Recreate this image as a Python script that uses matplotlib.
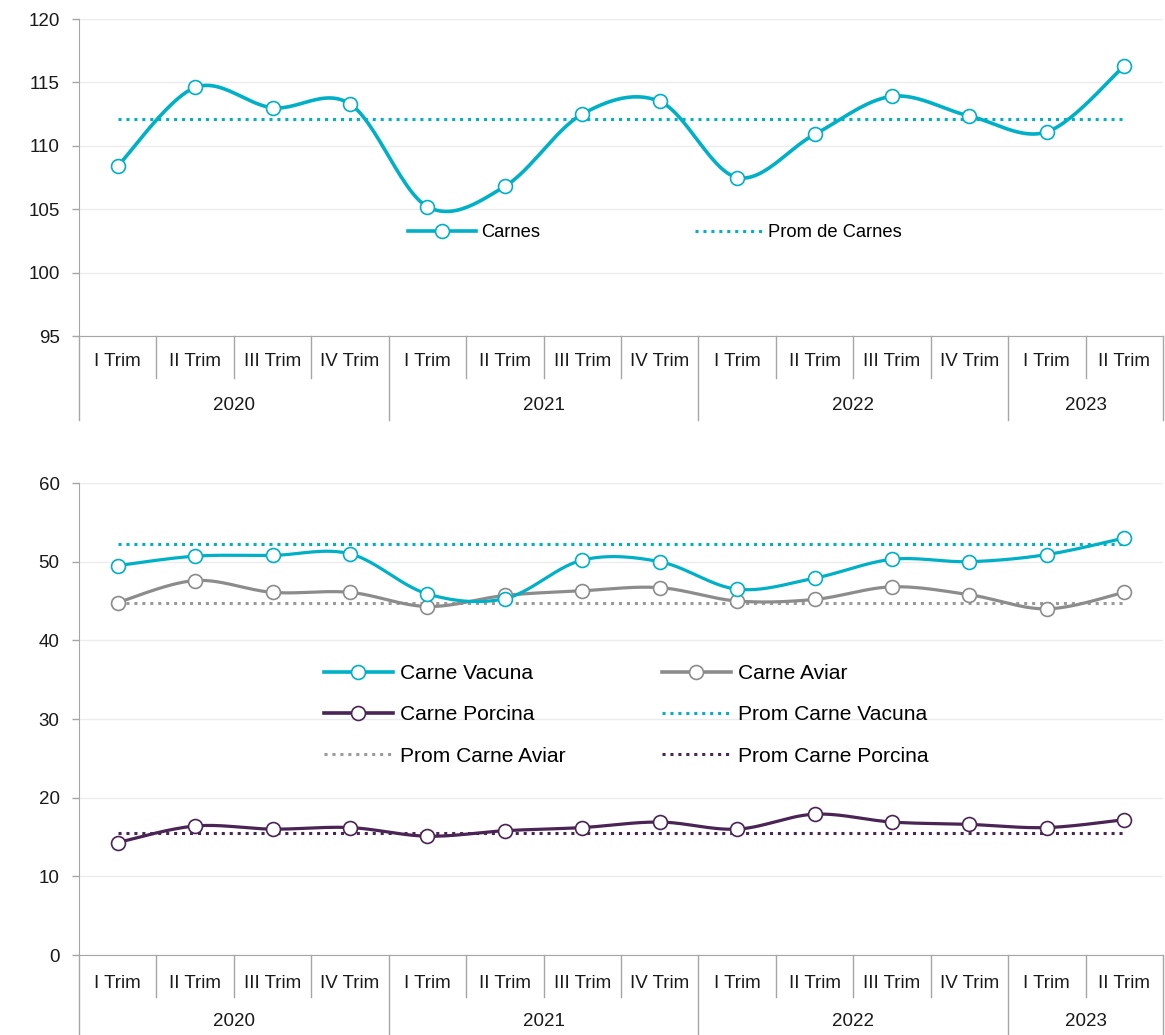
import numpy as np
import matplotlib.pyplot as plt
from matplotlib.lines import Line2D

plt.rcParams['font.family'] = ['Liberation Sans', 'DejaVu Sans']

# categorias
trimestres = ['I Trim', 'II Trim', 'III Trim', 'IV Trim'] * 3 + ['I Trim', 'II Trim']
anios = ['2020', '2021', '2022', '2023']
trim_por_anio = [4, 4, 4, 2]

# grafico superior
carnes = [108.4, 114.6, 113.0, 113.3, 105.2, 106.8, 112.5, 113.5,
          107.5, 110.9, 113.9, 112.35, 111.1, 116.3]
prom_carnes = 112.1

# grafico inferior
vacuna = [49.5, 50.7, 50.8, 51.0, 45.9, 45.3, 50.2, 50.0, 46.5, 47.9, 50.3, 50.0, 50.9, 53.0]
aviar = [44.8, 47.6, 46.1, 46.1, 44.3, 45.7, 46.3, 46.7, 45.0, 45.2, 46.8, 45.8, 44.0, 46.1]
porcina = [14.3, 16.4, 16.0, 16.2, 15.1, 15.8, 16.2, 16.9, 16.0, 17.9, 16.9, 16.6, 16.2, 17.2]
prom_vacuna = 52.2
prom_aviar = 44.7
prom_porcina = 15.45

TEAL = '#00b0c6'
GRIS = '#8c8c8c'
GRIS_PROM = '#9a9a9a'
MORADO = '#4a2454'
AXC = '#a6a6a6'
TXT = '#1a1a1a'
DOT = (0, (1, 1.6))
FS = 13.5


def suavizar(y, n=30):
    # curva tipo Excel (Catmull-Rom)
    y = np.asarray(y, float)
    x = np.arange(len(y), dtype=float)
    p = np.column_stack([x, y])
    p = np.vstack([p[0], p, p[-1]])
    out = []
    t = np.linspace(0, 1, n)[:, None]
    for i in range(1, len(p) - 2):
        p0, p1, p2, p3 = p[i - 1], p[i], p[i + 1], p[i + 2]
        c1 = p1 + (p2 - p0) / 6
        c2 = p2 - (p3 - p1) / 6
        seg = ((1 - t) ** 3) * p1 + 3 * ((1 - t) ** 2) * t * c1 + 3 * (1 - t) * t ** 2 * c2 + t ** 3 * p2
        out.append(seg)
    out = np.vstack(out)
    return out[:, 0], out[:, 1]


def serie(ax, y, color, lw):
    xs, ys = suavizar(y)
    ax.plot(xs, ys, color=color, lw=lw, solid_capstyle='round', zorder=3)
    ax.plot(range(len(y)), y, ls='none', marker='o', ms=10, mfc='white',
            mec=color, mew=1.2, zorder=4)


def promedio(ax, valor, color):
    n = len(trimestres)
    ax.plot([0, n - 1], [valor, valor], color=color, lw=2.2, ls=DOT, zorder=2)


def eje_categorias(ax, h_px, corto, largo, lab, anio_y):
    tr = ax.get_xaxis_transform()
    f = lambda px: -px / h_px
    limites = np.cumsum([0] + trim_por_anio) - 0.5
    for i in range(1, len(trimestres)):
        if i - 0.5 in limites:
            continue
        ax.plot([i - 0.5, i - 0.5], [0, f(corto)], color=AXC, lw=1,
                transform=tr, clip_on=False)
    for b in limites:
        ax.plot([b, b], [0, f(largo)], color=AXC, lw=1, transform=tr, clip_on=False)
    for i, t in enumerate(trimestres):
        ax.text(i, f(lab), t, ha='center', va='center', fontsize=FS,
                color=TXT, transform=tr)
    for j, a in enumerate(anios):
        c = (limites[j] + limites[j + 1]) / 2
        ax.text(c, f(anio_y), a, ha='center', va='center', fontsize=FS,
                color=TXT, transform=tr)


def estilo(ax, lo, hi, paso):
    ax.set_xlim(-0.5, len(trimestres) - 0.5)
    ax.set_ylim(lo, hi)
    ax.set_yticks(np.arange(lo, hi + 0.1, paso))
    ax.set_xticks([])
    ax.grid(axis='y', color='#ececec', lw=1)
    ax.set_axisbelow(True)
    for s in ['top', 'right']:
        ax.spines[s].set_visible(False)
    for s in ['left', 'bottom']:
        ax.spines[s].set_color(AXC)
    ax.tick_params(axis='y', colors=AXC, labelcolor=TXT, labelsize=FS,
                   length=5, width=1, pad=9)


W, H = 1165, 1035
fig = plt.figure(figsize=(W / 100, H / 100), dpi=100)
izq = 79 / W
ancho = (1163 - 79) / W

# --- superior ---
ax1 = fig.add_axes([izq, 1 - 336 / H, ancho, 317 / H])
estilo(ax1, 95, 120, 5)
serie(ax1, carnes, TEAL, 2.6)
promedio(ax1, prom_carnes, TEAL)
eje_categorias(ax1, 317, 42, 84, 26, 69)
h1 = [Line2D([], [], color=TEAL, lw=2.6, marker='o', ms=10, mfc='white', mec=TEAL, mew=1.2),
      Line2D([], [], color=TEAL, lw=2.2, ls=DOT)]
ax1.legend(h1, ['Carnes', 'Prom de Carnes'], ncol=2, frameon=False, fontsize=13.2,
           handlelength=3.7, handletextpad=0.3, columnspacing=8.4, numpoints=1,
           loc='center', bbox_to_anchor=(655 / W, 1 - 233 / H),
           bbox_transform=fig.transFigure)

# --- inferior ---
ax2 = fig.add_axes([izq, 1 - 955 / H, ancho, 472 / H])
estilo(ax2, 0, 60, 10)
promedio(ax2, prom_vacuna, TEAL)
promedio(ax2, prom_aviar, GRIS_PROM)
promedio(ax2, prom_porcina, MORADO)
serie(ax2, aviar, GRIS, 2.3)
serie(ax2, vacuna, TEAL, 2.3)
serie(ax2, porcina, MORADO, 2.3)
eje_categorias(ax2, 472, 42, 90, 28, 67)


def hl(c):
    return Line2D([], [], color=c, lw=2.6, marker='o', ms=10, mfc='white', mec=c, mew=1.2)


def hp(c):
    return Line2D([], [], color=c, lw=2.2, ls=DOT)


h2 = [hl(TEAL), hl(MORADO), hp(GRIS_PROM), hl(GRIS), hp(TEAL), hp(MORADO)]
l2 = ['Carne Vacuna', 'Carne Porcina', 'Prom Carne Aviar',
      'Carne Aviar', 'Prom Carne Vacuna', 'Prom Carne Porcina']
ax2.legend(h2, l2, ncol=2, frameon=False, fontsize=15.1, handlelength=3.3,
           handletextpad=0.33, columnspacing=4.6, labelspacing=1.05, numpoints=1,
           loc='center', bbox_to_anchor=(626 / W, 1 - 715 / H),
           bbox_transform=fig.transFigure)

fig.savefig('out.png', dpi=100)
